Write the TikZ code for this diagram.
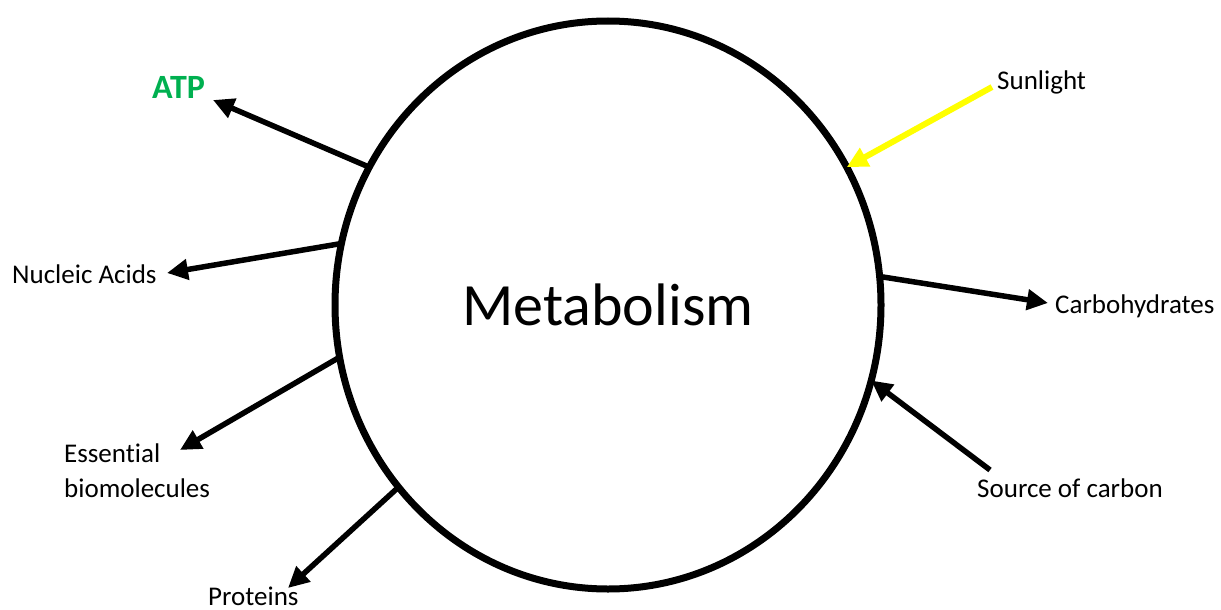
\documentclass[tikz,border=0pt]{standalone}
\usepackage{fontspec}
\setmainfont{Carlito}[Ligatures=NoCommon]
\usetikzlibrary{arrows.meta,shapes.geometric}
\definecolor{atpgreen}{RGB}{0,176,80}
\definecolor{sunyellow}{RGB}{255,255,0}
\begin{document}
\begin{tikzpicture}[x=1pt,y=-1pt,
  lbl/.style={anchor=base west,inner sep=0pt,font=\fontsize{27}{32}\selectfont},
  flow/.style={line width=5.5pt,-{Triangle[length=21pt,width=20pt]}},
  sun/.style={flow,draw=sunyellow,line width=6pt}]
\useasboundingbox (0,0) rectangle (1221,610);
\node[ellipse,draw,line width=7pt,minimum width=546pt,minimum height=568pt,
      inner sep=0pt,outer sep=0pt,font=\fontsize{60}{70}\selectfont] (met) at (608,305) {Metabolism};
\node[lbl,font=\fontsize{34}{40}\selectfont\bfseries,text=atpgreen] (atp) at (152,99) {ATP};
\node[lbl] (sunl) at (997,89) {Sunlight};
\node[lbl] (nuc) at (12,283) {Nucleic Acids};
\node[lbl] (carb) at (1055,313) {Carbohydrates};
\node[lbl] (ess) at (64,462) {Essential};
\node[lbl] (bio) at (64,497) {biomolecules};
\node[lbl] (prot) at (208,605) {Proteins};
\node[lbl] (src) at (977,497) {Source of carbon};
\coordinate (atpT) at (213,100);
\coordinate (nucT) at (167,273);
\coordinate (essT) at (180,450);
\coordinate (protT) at (288,588);
\coordinate (carbT) at (1048,303);
\coordinate (sunS) at (992,87);
\coordinate (srcS) at (990,470);
\draw[flow] (met.150.4) -- (atpT);
\draw[flow] (met.167.3) -- (nucT);
\draw[flow] (met.191.7) -- (essT);
\draw[flow] (met.221.5) -- (protT);
\draw[flow] (met.6.6) -- (carbT);
\draw[sun] (sunS) -- (met.30.9);
\draw[flow] (srcS) -- (met.344.7);
\end{tikzpicture}
\end{document}
